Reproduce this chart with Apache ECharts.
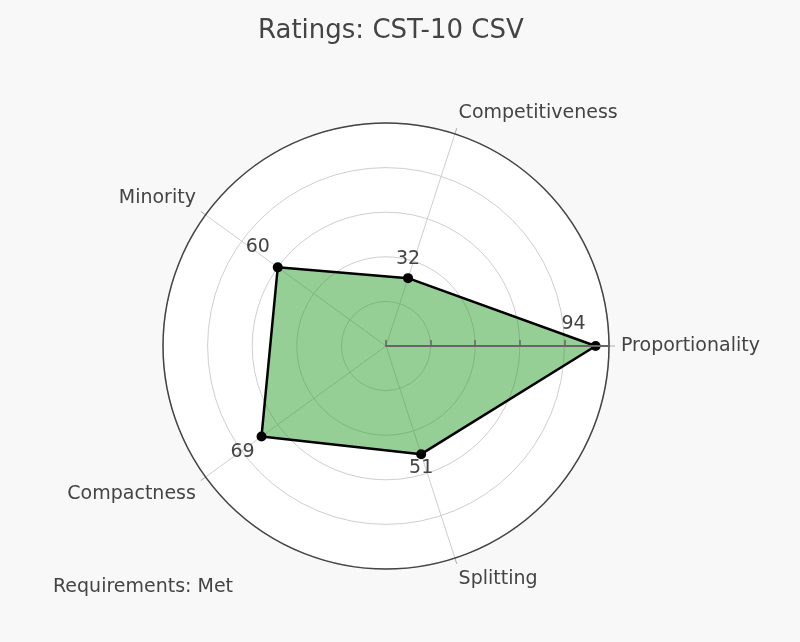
<!DOCTYPE html>
<html>
<head>
<meta charset="utf-8">
<script src="https://cdn.jsdelivr.net/npm/echarts@6/dist/echarts.min.js"></script>
<style>
  html, body { margin: 0; padding: 0; background: #f8f8f8; }
  #chart { width: 800px; height: 642px; }
</style>
</head>
<body>
<div id="chart"></div>
<script>
// Ratings per criterion, counter-clockwise from the right
const criteria = ['Proportionality', 'Competitiveness', 'Minority', 'Compactness', 'Splitting']
const ratings = [94, 32, 60, 69, 51]
const radialTicks = [0, 20, 40, 60, 80, 100]

// label placement for each vertex value
const labelPositions = [
  { position : 'top', offset : [-22, -2] },
  { position : 'top', offset : [0, 0] },
  { position : 'top', offset : [-20, -1] },
  { position : 'bottom', offset : [-19, -4] },
  { position : 'bottom', offset : [0, -6] }
]

const step = 360 / criteria.length
const fontFamily = '"DejaVu Sans", Verdana, sans-serif'
const center = [386, 346]
const radius = 223

const chart = echarts.init( document.getElementById( 'chart' ) )

const points = ratings.map( ( r, i ) => ( {
  value : [r, i * step],
  label : labelPositions[i]
} ) )
// close the polygon back to the first vertex
points.push( { value : [ratings[0], 360], label : { show : false }, symbol : 'none' } )

const hiddenAngle = polarIndex => ( {
  polarIndex,
  show : false,
  type : 'value',
  min : 0,
  max : 360,
  startAngle : 0
} )

chart.setOption( {
  backgroundColor : '#f8f8f8',
  animation : false,
  title : {
    text : 'Ratings: CST-10 CSV',
    left : 253,
    top : 13,
    textStyle : { fontFamily, fontSize : 26, fontWeight : 'normal', color : '#444' }
  },
  graphic : [ {
    type : 'text',
    left : 53,
    top : 578,
    style : { text : 'Requirements: Met', fontFamily, fontSize : 19, fill : '#444' }
  } ],
  // 0: white disc, 1: grid, 2: radial axis drawn above the fill
  polar : [
    { center, radius },
    { center, radius },
    { center, radius }
  ],
  angleAxis : [
    hiddenAngle( 0 ),
    {
      polarIndex : 1,
      type : 'value',
      min : 0,
      max : 360,
      interval : step,
      startAngle : 0,
      clockwise : false,
      z : 2,
      axisLine : { lineStyle : { color : '#444', width : 1.5 } },
      axisTick : { show : true, inside : false, length : 6, lineStyle : { color : '#aaa' } },
      splitLine : { show : true, lineStyle : { color : '#cfcfcf', width : 1 } },
      axisLabel : {
        margin : 12,
        fontFamily,
        fontSize : 19,
        color : '#444',
        formatter : v => criteria[Math.round( v / step ) % criteria.length]
      }
    },
    hiddenAngle( 2 )
  ],
  radiusAxis : [
    {
      polarIndex : 0,
      type : 'value',
      min : 0,
      max : 100,
      z : 0,
      axisLine : { show : false },
      axisTick : { show : false },
      axisLabel : { show : false },
      splitLine : { show : false },
      splitArea : { show : true, areaStyle : { color : ['#ffffff'] } }
    },
    {
      polarIndex : 1,
      type : 'value',
      min : radialTicks[0],
      max : radialTicks[radialTicks.length - 1],
      interval : 20,
      z : 2,
      axisLine : { show : false },
      axisTick : { show : false },
      axisLabel : { show : false },
      splitLine : { show : true, lineStyle : { color : '#cfcfcf', width : 1 } }
    },
    {
      polarIndex : 2,
      type : 'value',
      min : radialTicks[0],
      max : radialTicks[radialTicks.length - 1],
      interval : 20,
      z : 4,
      axisLine : { lineStyle : { color : '#666', width : 2 } },
      axisTick : { show : true, inside : true, length : 6, lineStyle : { color : '#666', width : 1.5 } },
      axisLabel : { show : false },
      splitLine : { show : false }
    }
  ],
  series : [ {
    type : 'line',
    coordinateSystem : 'polar',
    polarIndex : 1,
    data : points,
    symbol : 'circle',
    symbolSize : 10,
    itemStyle : { color : '#000' },
    lineStyle : { color : '#000', width : 2.5 },
    areaStyle : { color : 'rgba(44, 160, 44, 0.5)', opacity : 1, origin : 'start' },
    label : {
      show : true,
      fontFamily,
      fontSize : 19,
      color : '#444',
      formatter : p => p.value[0]
    },
    z : 3
  } ]
} )
</script>
</body>
</html>
